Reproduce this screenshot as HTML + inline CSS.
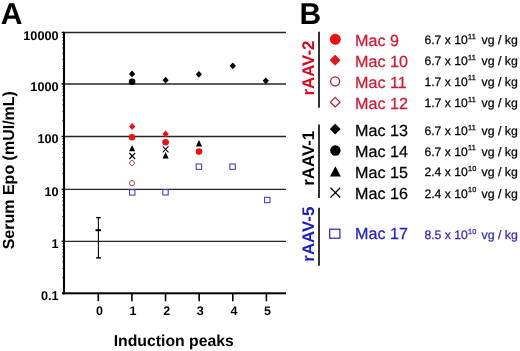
<!DOCTYPE html>
<html><head><meta charset="utf-8"><style>
html,body{margin:0;padding:0;background:#fff;}
body{width:520px;height:351px;overflow:hidden;}
svg{display:block;will-change:transform;}
text{font-family:"Liberation Sans",sans-serif;text-rendering:geometricPrecision;}
.b{font-weight:bold;}
</style></head><body>
<svg width="520" height="351" viewBox="0 0 520 351">
<text x="0.8" y="23.5" class="b" font-size="30" fill="#000">A</text>
<text x="299.5" y="23.5" class="b" font-size="30" fill="#000">B</text>
<g stroke="#262626" stroke-width="1.3">
<line x1="65" y1="32.5" x2="286" y2="32.5"/>
<line x1="65" y1="84" x2="286" y2="84"/>
<line x1="65" y1="136.5" x2="286" y2="136.5"/>
<line x1="65" y1="189.4" x2="286" y2="189.4"/>
<line x1="65" y1="241.3" x2="286" y2="241.3"/>
</g>
<g stroke="#000" stroke-width="1.5">
<line x1="61.6" y1="32.5" x2="64" y2="32.5"/>
<line x1="61.6" y1="84" x2="64" y2="84"/>
<line x1="61.6" y1="136.5" x2="64" y2="136.5"/>
<line x1="61.6" y1="189.4" x2="64" y2="189.4"/>
<line x1="61.6" y1="241.3" x2="64" y2="241.3"/>
</g>
<g stroke="#333" stroke-width="0.7">
<line x1="62" y1="68.5" x2="63.5" y2="68.5"/>
<line x1="62" y1="59.43" x2="63.5" y2="59.43"/>
<line x1="62" y1="52.99" x2="63.5" y2="52.99"/>
<line x1="62" y1="48" x2="63.5" y2="48"/>
<line x1="62" y1="43.93" x2="63.5" y2="43.93"/>
<line x1="62" y1="40.48" x2="63.5" y2="40.48"/>
<line x1="62" y1="37.49" x2="63.5" y2="37.49"/>
<line x1="62" y1="34.86" x2="63.5" y2="34.86"/>
<line x1="62" y1="120.7" x2="63.5" y2="120.7"/>
<line x1="62" y1="111.45" x2="63.5" y2="111.45"/>
<line x1="62" y1="104.89" x2="63.5" y2="104.89"/>
<line x1="62" y1="99.8" x2="63.5" y2="99.8"/>
<line x1="62" y1="95.65" x2="63.5" y2="95.65"/>
<line x1="62" y1="92.13" x2="63.5" y2="92.13"/>
<line x1="62" y1="89.09" x2="63.5" y2="89.09"/>
<line x1="62" y1="86.4" x2="63.5" y2="86.4"/>
<line x1="62" y1="173.48" x2="63.5" y2="173.48"/>
<line x1="62" y1="164.16" x2="63.5" y2="164.16"/>
<line x1="62" y1="157.55" x2="63.5" y2="157.55"/>
<line x1="62" y1="152.42" x2="63.5" y2="152.42"/>
<line x1="62" y1="148.24" x2="63.5" y2="148.24"/>
<line x1="62" y1="144.69" x2="63.5" y2="144.69"/>
<line x1="62" y1="141.63" x2="63.5" y2="141.63"/>
<line x1="62" y1="138.92" x2="63.5" y2="138.92"/>
<line x1="62" y1="225.68" x2="63.5" y2="225.68"/>
<line x1="62" y1="216.54" x2="63.5" y2="216.54"/>
<line x1="62" y1="210.05" x2="63.5" y2="210.05"/>
<line x1="62" y1="205.02" x2="63.5" y2="205.02"/>
<line x1="62" y1="200.91" x2="63.5" y2="200.91"/>
<line x1="62" y1="197.44" x2="63.5" y2="197.44"/>
<line x1="62" y1="194.43" x2="63.5" y2="194.43"/>
<line x1="62" y1="191.77" x2="63.5" y2="191.77"/>
<line x1="62" y1="277.65" x2="63.5" y2="277.65"/>
<line x1="62" y1="268.49" x2="63.5" y2="268.49"/>
<line x1="62" y1="261.99" x2="63.5" y2="261.99"/>
<line x1="62" y1="256.95" x2="63.5" y2="256.95"/>
<line x1="62" y1="252.84" x2="63.5" y2="252.84"/>
<line x1="62" y1="249.35" x2="63.5" y2="249.35"/>
<line x1="62" y1="246.34" x2="63.5" y2="246.34"/>
<line x1="62" y1="243.68" x2="63.5" y2="243.68"/>
</g>
<rect x="63" y="31.8" width="2" height="262.5" fill="#000"/>
<rect x="62" y="292.3" width="224" height="2" fill="#000"/>
<g stroke="#000" stroke-width="1.6">
<line x1="98.3" y1="294" x2="98.3" y2="301.2"/>
<line x1="131.92" y1="294" x2="131.92" y2="301.2"/>
<line x1="165.54" y1="294" x2="165.54" y2="301.2"/>
<line x1="199.16" y1="294" x2="199.16" y2="301.2"/>
<line x1="232.78" y1="294" x2="232.78" y2="301.2"/>
<line x1="266.4" y1="294" x2="266.4" y2="301.2"/>
</g>
<g class="b" font-size="12.7" fill="#000" text-anchor="end">
<text x="58.6" y="39.5">10000</text>
<text x="58.6" y="91.1">1000</text>
<text x="58.6" y="143.1">100</text>
<text x="58.6" y="195.7">10</text>
<text x="58.6" y="247.7">1</text>
<text x="58.6" y="300.3">0.1</text>
</g>
<g class="b" font-size="12.5" fill="#000" text-anchor="middle">
<text x="99.4" y="315.3">0</text>
<text x="133.02" y="315.3">1</text>
<text x="166.64" y="315.3">2</text>
<text x="200.26" y="315.3">3</text>
<text x="233.88" y="315.3">4</text>
<text x="267.5" y="315.3">5</text>
</g>
<text x="173.8" y="345.8" class="b" font-size="15.8" text-anchor="middle" fill="#000">Induction peaks</text>
<text transform="translate(13.6,170.2) rotate(-90)" class="b" font-size="16" text-anchor="middle" fill="#000">Serum Epo (mUI/mL)</text>
<g stroke="#000">
<line x1="98.4" y1="217.5" x2="98.4" y2="258" stroke-width="1.1"/>
<line x1="96.2" y1="217.6" x2="100.7" y2="217.6" stroke-width="1.4"/>
<line x1="95.5" y1="230.2" x2="101" y2="230.2" stroke-width="2"/>
<line x1="96.1" y1="257.9" x2="101" y2="257.9" stroke-width="1.4"/>
</g>
<g fill="#000">
<path d="M132.1,70.5 L135.2,73.9 L132.1,77.3 L129,73.9 Z"/>
<circle cx="132.1" cy="81.8" r="3.3"/>
<path d="M132.1,144.9 L135.2,151.3 L129,151.3 Z"/>
<path d="M165.6,76.8 L168.7,80.2 L165.6,83.6 L162.5,80.2 Z"/>
<path d="M165.6,152 L168.7,158.4 L162.5,158.4 Z"/>
<path d="M198.9,70.9 L202,74.3 L198.9,77.7 L195.8,74.3 Z"/>
<path d="M199,140 L202.1,146.4 L195.9,146.4 Z"/>
<path d="M232.8,62.4 L235.9,65.8 L232.8,69.2 L229.7,65.8 Z"/>
<path d="M265.8,77.4 L268.9,80.8 L265.8,84.2 L262.7,80.8 Z"/>
</g>
<g fill="none" stroke="#000" stroke-width="1.1">
<path d="M129.3,153 L135.1,159 M129.3,159 L135.1,153"/>
<path d="M162.7,146.4 L168.5,152.4 M162.7,152.4 L168.5,146.4"/>
</g>
<g fill="#f01010">
<path d="M132.2,123.1 L135.3,126.5 L132.2,129.9 L129.1,126.5 Z"/>
<circle cx="132" cy="137.2" r="3.3"/>
<path d="M165.6,130.6 L168.7,134 L165.6,137.4 L162.5,134 Z"/>
<circle cx="165.6" cy="142.3" r="3.3"/>
<circle cx="199" cy="151.6" r="3.3"/>
</g>
<g fill="none" stroke="#c42840" stroke-width="0.95">
<path d="M132,159.9 L134.8,163 L132,166.1 L129.2,163 Z"/>
<ellipse cx="132" cy="183.15" rx="2.5" ry="2.6"/>
</g>
<g fill="none" stroke="#4238c0" stroke-width="1.05">
<rect x="129.5" y="189.7" width="5.4" height="5.4"/>
<rect x="162.8" y="189.6" width="5.4" height="5.4"/>
<rect x="196.2" y="164" width="5.4" height="5.4"/>
<rect x="229.9" y="164" width="5.4" height="5.4"/>
<rect x="264.6" y="197.3" width="5.4" height="5.4"/>
</g>
<text transform="translate(314,68.1) rotate(-90)" class="b" font-size="16.85" text-anchor="middle" fill="#e0001c">rAAV-2</text>
<text transform="translate(314,158.3) rotate(-90)" class="b" font-size="16.85" text-anchor="middle" fill="#000">rAAV-1</text>
<text transform="translate(314,234.2) rotate(-90)" class="b" font-size="16.85" text-anchor="middle" fill="#1a1acc">rAAV-5</text>
<g stroke="#000" stroke-width="1.6">
<line x1="319" y1="31.8" x2="319" y2="107.8"/>
<line x1="319" y1="124.5" x2="319" y2="197.9"/>
<line x1="319" y1="207.8" x2="319" y2="265.7"/>
</g>
<circle cx="335.3" cy="39.2" r="5.2" fill="#f01010" stroke="#c00000" stroke-width="0.5"/>
<path d="M335.1,55.1 L340.2,60.2 L335.1,65.3 L330,60.2 Z" fill="#f01010" stroke="#b00000" stroke-width="0.5"/>
<circle cx="335.1" cy="81.3" r="4.5" fill="none" stroke="#b01830" stroke-width="1.25"/>
<path d="M335.2,97.4 L340,102.2 L335.2,107 L330.4,102.2 Z" fill="none" stroke="#b01830" stroke-width="1.2"/>
<path d="M335.2,123.7 L340.6,129.1 L335.2,134.5 L329.8,129.1 Z" fill="#000"/>
<circle cx="335.4" cy="150.5" r="5.2" fill="#000"/>
<path d="M335.4,166.2 L340.8,176.5 L330,176.5 Z" fill="#000"/>
<path d="M330.5,187.8 L340.3,197.5 M330.5,197.5 L340.3,187.8" stroke="#000" stroke-width="1.2" fill="none"/>
<rect x="329.7" y="229.2" width="10.2" height="9" fill="none" stroke="#2a20b8" stroke-width="1.2"/>
<g font-size="16.1">
<text x="355.1" y="45.5" fill="#d41830" stroke="#d41830" stroke-width="0.25">Mac 9</text>
<text x="355.1" y="66.5" fill="#d41830" stroke="#d41830" stroke-width="0.25">Mac 10</text>
<text x="355.1" y="87.8" fill="#d41830" stroke="#d41830" stroke-width="0.25">Mac 11</text>
<text x="355.1" y="108.5" fill="#d41830" stroke="#d41830" stroke-width="0.25">Mac 12</text>
<text x="355.1" y="135.55" fill="#000" stroke="#000" stroke-width="0.25">Mac 13</text>
<text x="355.1" y="156.5" fill="#000" stroke="#000" stroke-width="0.25">Mac 14</text>
<text x="355.1" y="177.5" fill="#000" stroke="#000" stroke-width="0.25">Mac 15</text>
<text x="355.1" y="198.5" fill="#000" stroke="#000" stroke-width="0.25">Mac 16</text>
<text x="355.1" y="239.2" fill="#2420cc" stroke="#2420cc" stroke-width="0.25">Mac 17</text>
</g>
<g fill="#000" stroke="#000" stroke-width="0.25"><text x="424.4" y="44.2" font-size="12.2">6.7 x 10</text><text x="467.9" y="38.7" font-size="7.3" letter-spacing="0.3">11</text><text x="481.5" y="44.2" font-size="12.3">vg / kg</text></g>
<g fill="#000" stroke="#000" stroke-width="0.25"><text x="424.4" y="65.15" font-size="12.2">6.7 x 10</text><text x="467.9" y="59.65" font-size="7.3" letter-spacing="0.3">11</text><text x="481.5" y="65.15" font-size="12.3">vg / kg</text></g>
<g fill="#000" stroke="#000" stroke-width="0.25"><text x="424.4" y="85.9" font-size="12.2">1.7 x 10</text><text x="467.9" y="80.4" font-size="7.3" letter-spacing="0.3">11</text><text x="481.5" y="85.9" font-size="12.3">vg / kg</text></g>
<g fill="#000" stroke="#000" stroke-width="0.25"><text x="424.4" y="107.3" font-size="12.2">1.7 x 10</text><text x="467.9" y="101.8" font-size="7.3" letter-spacing="0.3">11</text><text x="481.5" y="107.3" font-size="12.3">vg / kg</text></g>
<g fill="#000" stroke="#000" stroke-width="0.25"><text x="424.4" y="135" font-size="12.2">6.7 x 10</text><text x="467.9" y="129.5" font-size="7.3" letter-spacing="0.3">11</text><text x="481.5" y="135" font-size="12.3">vg / kg</text></g>
<g fill="#000" stroke="#000" stroke-width="0.25"><text x="424.4" y="155.5" font-size="12.2">6.7 x 10</text><text x="467.9" y="150" font-size="7.3" letter-spacing="0.3">11</text><text x="481.5" y="155.5" font-size="12.3">vg / kg</text></g>
<g fill="#000" stroke="#000" stroke-width="0.25"><text x="424.4" y="176.1" font-size="12.2">2.4 x 10</text><text x="467.9" y="170.6" font-size="7.3" letter-spacing="0.3">10</text><text x="481.5" y="176.1" font-size="12.3">vg / kg</text></g>
<g fill="#000" stroke="#000" stroke-width="0.25"><text x="424.4" y="197.8" font-size="12.2">2.4 x 10</text><text x="467.9" y="192.3" font-size="7.3" letter-spacing="0.3">10</text><text x="481.5" y="197.8" font-size="12.3">vg / kg</text></g>
<g fill="#3028c0" stroke="#3028c0" stroke-width="0.25"><text x="424.4" y="239.1" font-size="12.2">8.5 x 10</text><text x="467.9" y="233.6" font-size="7.3" letter-spacing="0.3">10</text><text x="481.5" y="239.1" font-size="12.3">vg / kg</text></g>
</svg>
</body></html>
